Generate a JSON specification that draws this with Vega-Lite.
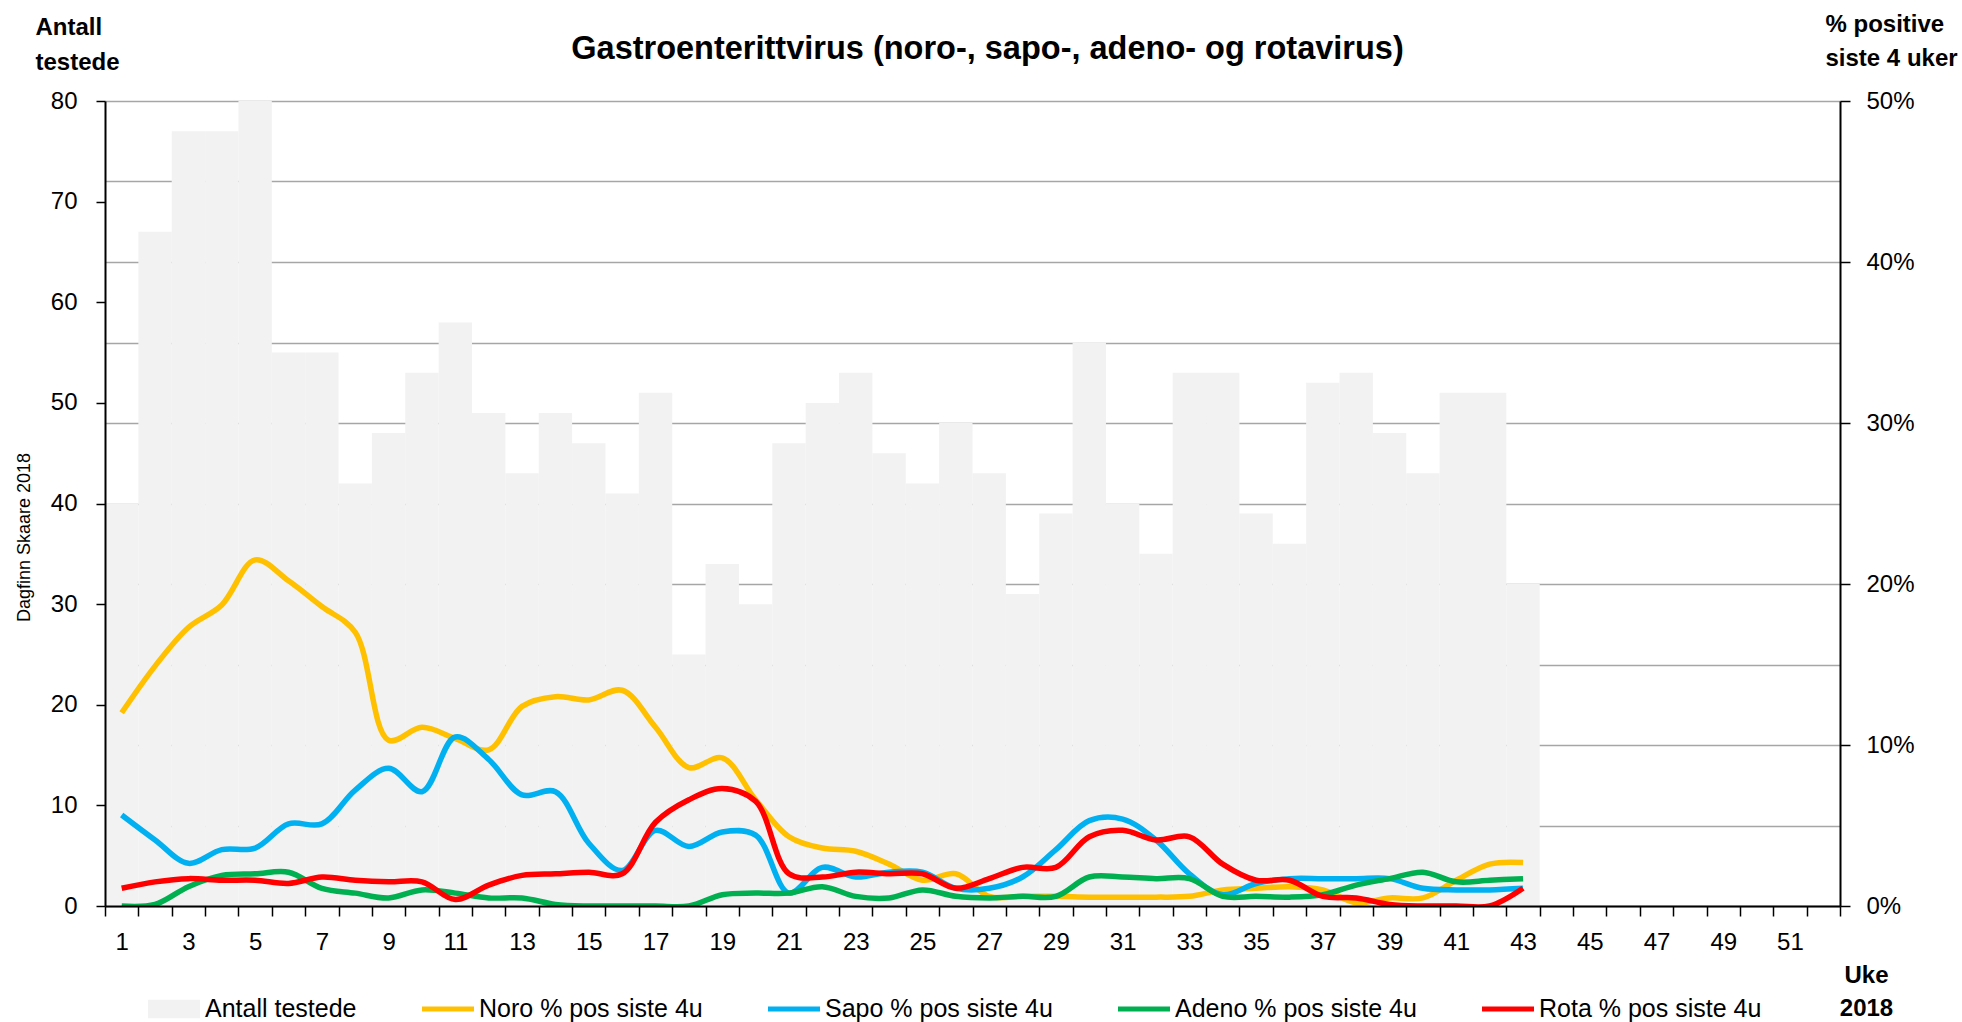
{
  "$schema": "https://vega.github.io/schema/vega-lite/v6.json",
  "width": 1735,
  "height": 805,
  "autosize": {"type": "none"},
  "padding": {"left": 105, "top": 101, "right": 122, "bottom": 116},
  "background": "white",
  "config": {
    "font": "Liberation Sans",
    "view": {"stroke": null},
    "axis": {"labelColor": "#000", "titleColor": "#000", "tickColor": "#000", "domainColor": "#000"}
  },
  "title": {
    "text": "Gastroenterittvirus (noro-, sapo-, adeno- og rotavirus)",
    "fontSize": 32.5,
    "fontWeight": "bold",
    "color": "#000",
    "anchor": "middle",
    "frame": "group",
    "dx": 15,
    "dy": 57
  },
  "datasets": {
    "antall": [
      {"uke": 1, "antall": 40}, {"uke": 2, "antall": 67}, {"uke": 3, "antall": 77}, {"uke": 4, "antall": 77},
      {"uke": 5, "antall": 80}, {"uke": 6, "antall": 55}, {"uke": 7, "antall": 55}, {"uke": 8, "antall": 42},
      {"uke": 9, "antall": 47}, {"uke": 10, "antall": 53}, {"uke": 11, "antall": 58}, {"uke": 12, "antall": 49},
      {"uke": 13, "antall": 43}, {"uke": 14, "antall": 49}, {"uke": 15, "antall": 46}, {"uke": 16, "antall": 41},
      {"uke": 17, "antall": 51}, {"uke": 18, "antall": 25}, {"uke": 19, "antall": 34}, {"uke": 20, "antall": 30},
      {"uke": 21, "antall": 46}, {"uke": 22, "antall": 50}, {"uke": 23, "antall": 53}, {"uke": 24, "antall": 45},
      {"uke": 25, "antall": 42}, {"uke": 26, "antall": 48}, {"uke": 27, "antall": 43}, {"uke": 28, "antall": 31},
      {"uke": 29, "antall": 39}, {"uke": 30, "antall": 56}, {"uke": 31, "antall": 40}, {"uke": 32, "antall": 35},
      {"uke": 33, "antall": 53}, {"uke": 34, "antall": 53}, {"uke": 35, "antall": 39}, {"uke": 36, "antall": 36},
      {"uke": 37, "antall": 52}, {"uke": 38, "antall": 53}, {"uke": 39, "antall": 47}, {"uke": 40, "antall": 43},
      {"uke": 41, "antall": 51}, {"uke": 42, "antall": 51}, {"uke": 43, "antall": 32}
    ],
    "pos": [
      {"uke": 1, "serie": "Noro % pos siste 4u", "pct": 0.120},
      {"uke": 2, "serie": "Noro % pos siste 4u", "pct": 0.149},
      {"uke": 3, "serie": "Noro % pos siste 4u", "pct": 0.173},
      {"uke": 4, "serie": "Noro % pos siste 4u", "pct": 0.187},
      {"uke": 5, "serie": "Noro % pos siste 4u", "pct": 0.215},
      {"uke": 6, "serie": "Noro % pos siste 4u", "pct": 0.202},
      {"uke": 7, "serie": "Noro % pos siste 4u", "pct": 0.186},
      {"uke": 8, "serie": "Noro % pos siste 4u", "pct": 0.170},
      {"uke": 9, "serie": "Noro % pos siste 4u", "pct": 0.103},
      {"uke": 10, "serie": "Noro % pos siste 4u", "pct": 0.111},
      {"uke": 11, "serie": "Noro % pos siste 4u", "pct": 0.104},
      {"uke": 12, "serie": "Noro % pos siste 4u", "pct": 0.097},
      {"uke": 13, "serie": "Noro % pos siste 4u", "pct": 0.124},
      {"uke": 14, "serie": "Noro % pos siste 4u", "pct": 0.130},
      {"uke": 15, "serie": "Noro % pos siste 4u", "pct": 0.128},
      {"uke": 16, "serie": "Noro % pos siste 4u", "pct": 0.134},
      {"uke": 17, "serie": "Noro % pos siste 4u", "pct": 0.111},
      {"uke": 18, "serie": "Noro % pos siste 4u", "pct": 0.086},
      {"uke": 19, "serie": "Noro % pos siste 4u", "pct": 0.092},
      {"uke": 20, "serie": "Noro % pos siste 4u", "pct": 0.066},
      {"uke": 21, "serie": "Noro % pos siste 4u", "pct": 0.043},
      {"uke": 22, "serie": "Noro % pos siste 4u", "pct": 0.036},
      {"uke": 23, "serie": "Noro % pos siste 4u", "pct": 0.034},
      {"uke": 24, "serie": "Noro % pos siste 4u", "pct": 0.026},
      {"uke": 25, "serie": "Noro % pos siste 4u", "pct": 0.016},
      {"uke": 26, "serie": "Noro % pos siste 4u", "pct": 0.020},
      {"uke": 27, "serie": "Noro % pos siste 4u", "pct": 0.006},
      {"uke": 28, "serie": "Noro % pos siste 4u", "pct": 0.006},
      {"uke": 29, "serie": "Noro % pos siste 4u", "pct": 0.006},
      {"uke": 30, "serie": "Noro % pos siste 4u", "pct": 0.0055},
      {"uke": 31, "serie": "Noro % pos siste 4u", "pct": 0.0055},
      {"uke": 32, "serie": "Noro % pos siste 4u", "pct": 0.0055},
      {"uke": 33, "serie": "Noro % pos siste 4u", "pct": 0.006},
      {"uke": 34, "serie": "Noro % pos siste 4u", "pct": 0.010},
      {"uke": 35, "serie": "Noro % pos siste 4u", "pct": 0.011},
      {"uke": 36, "serie": "Noro % pos siste 4u", "pct": 0.012},
      {"uke": 37, "serie": "Noro % pos siste 4u", "pct": 0.010},
      {"uke": 38, "serie": "Noro % pos siste 4u", "pct": 0.002},
      {"uke": 39, "serie": "Noro % pos siste 4u", "pct": 0.005},
      {"uke": 40, "serie": "Noro % pos siste 4u", "pct": 0.005},
      {"uke": 41, "serie": "Noro % pos siste 4u", "pct": 0.016},
      {"uke": 42, "serie": "Noro % pos siste 4u", "pct": 0.026},
      {"uke": 43, "serie": "Noro % pos siste 4u", "pct": 0.027},
      {"uke": 1, "serie": "Sapo % pos siste 4u", "pct": 0.0565},
      {"uke": 2, "serie": "Sapo % pos siste 4u", "pct": 0.041},
      {"uke": 3, "serie": "Sapo % pos siste 4u", "pct": 0.0265},
      {"uke": 4, "serie": "Sapo % pos siste 4u", "pct": 0.035},
      {"uke": 5, "serie": "Sapo % pos siste 4u", "pct": 0.036},
      {"uke": 6, "serie": "Sapo % pos siste 4u", "pct": 0.051},
      {"uke": 7, "serie": "Sapo % pos siste 4u", "pct": 0.051},
      {"uke": 8, "serie": "Sapo % pos siste 4u", "pct": 0.072},
      {"uke": 9, "serie": "Sapo % pos siste 4u", "pct": 0.0855},
      {"uke": 10, "serie": "Sapo % pos siste 4u", "pct": 0.071},
      {"uke": 11, "serie": "Sapo % pos siste 4u", "pct": 0.105},
      {"uke": 12, "serie": "Sapo % pos siste 4u", "pct": 0.091},
      {"uke": 13, "serie": "Sapo % pos siste 4u", "pct": 0.069},
      {"uke": 14, "serie": "Sapo % pos siste 4u", "pct": 0.071},
      {"uke": 15, "serie": "Sapo % pos siste 4u", "pct": 0.039},
      {"uke": 16, "serie": "Sapo % pos siste 4u", "pct": 0.022},
      {"uke": 17, "serie": "Sapo % pos siste 4u", "pct": 0.047},
      {"uke": 18, "serie": "Sapo % pos siste 4u", "pct": 0.037},
      {"uke": 19, "serie": "Sapo % pos siste 4u", "pct": 0.046},
      {"uke": 20, "serie": "Sapo % pos siste 4u", "pct": 0.044},
      {"uke": 21, "serie": "Sapo % pos siste 4u", "pct": 0.008},
      {"uke": 22, "serie": "Sapo % pos siste 4u", "pct": 0.024},
      {"uke": 23, "serie": "Sapo % pos siste 4u", "pct": 0.018},
      {"uke": 24, "serie": "Sapo % pos siste 4u", "pct": 0.021},
      {"uke": 25, "serie": "Sapo % pos siste 4u", "pct": 0.021},
      {"uke": 26, "serie": "Sapo % pos siste 4u", "pct": 0.011},
      {"uke": 27, "serie": "Sapo % pos siste 4u", "pct": 0.011},
      {"uke": 28, "serie": "Sapo % pos siste 4u", "pct": 0.018},
      {"uke": 29, "serie": "Sapo % pos siste 4u", "pct": 0.035},
      {"uke": 30, "serie": "Sapo % pos siste 4u", "pct": 0.053},
      {"uke": 31, "serie": "Sapo % pos siste 4u", "pct": 0.054},
      {"uke": 32, "serie": "Sapo % pos siste 4u", "pct": 0.041},
      {"uke": 33, "serie": "Sapo % pos siste 4u", "pct": 0.020},
      {"uke": 34, "serie": "Sapo % pos siste 4u", "pct": 0.007},
      {"uke": 35, "serie": "Sapo % pos siste 4u", "pct": 0.014},
      {"uke": 36, "serie": "Sapo % pos siste 4u", "pct": 0.017},
      {"uke": 37, "serie": "Sapo % pos siste 4u", "pct": 0.017},
      {"uke": 38, "serie": "Sapo % pos siste 4u", "pct": 0.017},
      {"uke": 39, "serie": "Sapo % pos siste 4u", "pct": 0.017},
      {"uke": 40, "serie": "Sapo % pos siste 4u", "pct": 0.011},
      {"uke": 41, "serie": "Sapo % pos siste 4u", "pct": 0.010},
      {"uke": 42, "serie": "Sapo % pos siste 4u", "pct": 0.010},
      {"uke": 43, "serie": "Sapo % pos siste 4u", "pct": 0.011},
      {"uke": 1, "serie": "Adeno % pos siste 4u", "pct": 0.0},
      {"uke": 2, "serie": "Adeno % pos siste 4u", "pct": 0.001},
      {"uke": 3, "serie": "Adeno % pos siste 4u", "pct": 0.012},
      {"uke": 4, "serie": "Adeno % pos siste 4u", "pct": 0.019},
      {"uke": 5, "serie": "Adeno % pos siste 4u", "pct": 0.020},
      {"uke": 6, "serie": "Adeno % pos siste 4u", "pct": 0.021},
      {"uke": 7, "serie": "Adeno % pos siste 4u", "pct": 0.011},
      {"uke": 8, "serie": "Adeno % pos siste 4u", "pct": 0.008},
      {"uke": 9, "serie": "Adeno % pos siste 4u", "pct": 0.005},
      {"uke": 10, "serie": "Adeno % pos siste 4u", "pct": 0.010},
      {"uke": 11, "serie": "Adeno % pos siste 4u", "pct": 0.008},
      {"uke": 12, "serie": "Adeno % pos siste 4u", "pct": 0.005},
      {"uke": 13, "serie": "Adeno % pos siste 4u", "pct": 0.005},
      {"uke": 14, "serie": "Adeno % pos siste 4u", "pct": 0.001},
      {"uke": 15, "serie": "Adeno % pos siste 4u", "pct": 0.0},
      {"uke": 16, "serie": "Adeno % pos siste 4u", "pct": 0.0},
      {"uke": 17, "serie": "Adeno % pos siste 4u", "pct": 0.0},
      {"uke": 18, "serie": "Adeno % pos siste 4u", "pct": 0.0},
      {"uke": 19, "serie": "Adeno % pos siste 4u", "pct": 0.007},
      {"uke": 20, "serie": "Adeno % pos siste 4u", "pct": 0.008},
      {"uke": 21, "serie": "Adeno % pos siste 4u", "pct": 0.008},
      {"uke": 22, "serie": "Adeno % pos siste 4u", "pct": 0.012},
      {"uke": 23, "serie": "Adeno % pos siste 4u", "pct": 0.006},
      {"uke": 24, "serie": "Adeno % pos siste 4u", "pct": 0.005},
      {"uke": 25, "serie": "Adeno % pos siste 4u", "pct": 0.010},
      {"uke": 26, "serie": "Adeno % pos siste 4u", "pct": 0.006},
      {"uke": 27, "serie": "Adeno % pos siste 4u", "pct": 0.005},
      {"uke": 28, "serie": "Adeno % pos siste 4u", "pct": 0.006},
      {"uke": 29, "serie": "Adeno % pos siste 4u", "pct": 0.006},
      {"uke": 30, "serie": "Adeno % pos siste 4u", "pct": 0.018},
      {"uke": 31, "serie": "Adeno % pos siste 4u", "pct": 0.018},
      {"uke": 32, "serie": "Adeno % pos siste 4u", "pct": 0.017},
      {"uke": 33, "serie": "Adeno % pos siste 4u", "pct": 0.017},
      {"uke": 34, "serie": "Adeno % pos siste 4u", "pct": 0.006},
      {"uke": 35, "serie": "Adeno % pos siste 4u", "pct": 0.006},
      {"uke": 36, "serie": "Adeno % pos siste 4u", "pct": 0.0055},
      {"uke": 37, "serie": "Adeno % pos siste 4u", "pct": 0.007},
      {"uke": 38, "serie": "Adeno % pos siste 4u", "pct": 0.013},
      {"uke": 39, "serie": "Adeno % pos siste 4u", "pct": 0.017},
      {"uke": 40, "serie": "Adeno % pos siste 4u", "pct": 0.021},
      {"uke": 41, "serie": "Adeno % pos siste 4u", "pct": 0.015},
      {"uke": 42, "serie": "Adeno % pos siste 4u", "pct": 0.016},
      {"uke": 43, "serie": "Adeno % pos siste 4u", "pct": 0.017},
      {"uke": 1, "serie": "Rota % pos siste 4u", "pct": 0.011},
      {"uke": 2, "serie": "Rota % pos siste 4u", "pct": 0.015},
      {"uke": 3, "serie": "Rota % pos siste 4u", "pct": 0.017},
      {"uke": 4, "serie": "Rota % pos siste 4u", "pct": 0.016},
      {"uke": 5, "serie": "Rota % pos siste 4u", "pct": 0.016},
      {"uke": 6, "serie": "Rota % pos siste 4u", "pct": 0.014},
      {"uke": 7, "serie": "Rota % pos siste 4u", "pct": 0.018},
      {"uke": 8, "serie": "Rota % pos siste 4u", "pct": 0.016},
      {"uke": 9, "serie": "Rota % pos siste 4u", "pct": 0.015},
      {"uke": 10, "serie": "Rota % pos siste 4u", "pct": 0.015},
      {"uke": 11, "serie": "Rota % pos siste 4u", "pct": 0.004},
      {"uke": 12, "serie": "Rota % pos siste 4u", "pct": 0.013},
      {"uke": 13, "serie": "Rota % pos siste 4u", "pct": 0.019},
      {"uke": 14, "serie": "Rota % pos siste 4u", "pct": 0.020},
      {"uke": 15, "serie": "Rota % pos siste 4u", "pct": 0.021},
      {"uke": 16, "serie": "Rota % pos siste 4u", "pct": 0.020},
      {"uke": 17, "serie": "Rota % pos siste 4u", "pct": 0.052},
      {"uke": 18, "serie": "Rota % pos siste 4u", "pct": 0.066},
      {"uke": 19, "serie": "Rota % pos siste 4u", "pct": 0.073},
      {"uke": 20, "serie": "Rota % pos siste 4u", "pct": 0.065},
      {"uke": 21, "serie": "Rota % pos siste 4u", "pct": 0.020},
      {"uke": 22, "serie": "Rota % pos siste 4u", "pct": 0.018},
      {"uke": 23, "serie": "Rota % pos siste 4u", "pct": 0.021},
      {"uke": 24, "serie": "Rota % pos siste 4u", "pct": 0.020},
      {"uke": 25, "serie": "Rota % pos siste 4u", "pct": 0.020},
      {"uke": 26, "serie": "Rota % pos siste 4u", "pct": 0.011},
      {"uke": 27, "serie": "Rota % pos siste 4u", "pct": 0.017},
      {"uke": 28, "serie": "Rota % pos siste 4u", "pct": 0.024},
      {"uke": 29, "serie": "Rota % pos siste 4u", "pct": 0.024},
      {"uke": 30, "serie": "Rota % pos siste 4u", "pct": 0.043},
      {"uke": 31, "serie": "Rota % pos siste 4u", "pct": 0.047},
      {"uke": 32, "serie": "Rota % pos siste 4u", "pct": 0.041},
      {"uke": 33, "serie": "Rota % pos siste 4u", "pct": 0.043},
      {"uke": 34, "serie": "Rota % pos siste 4u", "pct": 0.026},
      {"uke": 35, "serie": "Rota % pos siste 4u", "pct": 0.016},
      {"uke": 36, "serie": "Rota % pos siste 4u", "pct": 0.016},
      {"uke": 37, "serie": "Rota % pos siste 4u", "pct": 0.006},
      {"uke": 38, "serie": "Rota % pos siste 4u", "pct": 0.005},
      {"uke": 39, "serie": "Rota % pos siste 4u", "pct": 0.001},
      {"uke": 40, "serie": "Rota % pos siste 4u", "pct": 0.0},
      {"uke": 41, "serie": "Rota % pos siste 4u", "pct": 0.0},
      {"uke": 42, "serie": "Rota % pos siste 4u", "pct": 0.0},
      {"uke": 43, "serie": "Rota % pos siste 4u", "pct": 0.011}
    ]
  },
  "layer": [
    {
      "data": {"name": "antall"},
      "mark": {"type": "bar"},
      "encoding": {
        "x": {
          "field": "uke",
          "type": "ordinal",
          "scale": {
            "domain": [1,2,3,4,5,6,7,8,9,10,11,12,13,14,15,16,17,18,19,20,21,22,23,24,25,26,27,28,29,30,31,32,33,34,35,36,37,38,39,40,41,42,43,44,45,46,47,48,49,50,51,52],
            "paddingInner": 0,
            "paddingOuter": 0
          },
          "axis": {
            "title": ["Uke", "2018"],
            "titleFontSize": 24,
            "titleFontWeight": "bold",
            "titleAngle": 0,
            "titleX": 1761,
            "titleY": 76,
            "titleAlign": "center",
            "titleBaseline": "alphabetic",
            "titleLineHeight": 33,
            "labelExpr": "datum.value % 2 === 1 ? datum.label : ''",
            "labelAngle": 0,
            "labelFontSize": 24,
            "labelPadding": 14,
            "labelBaseline": "top",
            "labelOverlap": false,
            "tickBand": "extent",
            "tickSize": 10,
            "tickWidth": 1.5,
            "domainWidth": 2,
            "grid": false,
            "zindex": 1
          }
        },
        "y": {
          "field": "antall",
          "type": "quantitative",
          "scale": {"domain": [0, 80], "nice": false},
          "axis": {
            "title": ["Antall", "testede"],
            "titleFontSize": 24,
            "titleFontWeight": "bold",
            "titleAngle": 0,
            "titleX": -70,
            "titleY": -67,
            "titleAlign": "left",
            "titleBaseline": "alphabetic",
            "titleLineHeight": 35,
            "values": [0, 10, 20, 30, 40, 50, 60, 70, 80],
            "format": "d",
            "labelFontSize": 24,
            "labelPadding": 19,
            "tickSize": 9,
            "tickWidth": 1.5,
            "domainWidth": 2,
            "grid": false,
            "zindex": 1
          }
        },
        "color": {
          "datum": "Antall testede",
          "type": "nominal",
          "title": null,
          "scale": {
            "domain": ["Antall testede", "Noro % pos siste 4u", "Sapo % pos siste 4u", "Adeno % pos siste 4u", "Rota % pos siste 4u"],
            "range": ["#F2F2F2", "#FFC000", "#00B0F0", "#00B050", "#FF0000"]
          },
          "legend": {
            "orient": "none",
            "legendX": 43,
            "legendY": 882,
            "direction": "horizontal",
            "title": null,
            "labelFontSize": 25,
            "labelColor": "#000",
            "labelLimit": 500,
            "symbolSize": 2704,
            "columnPadding": 65,
            "labelOffset": 5,
            "encode": {
              "symbols": {
                "update": {
                  "shape": {"signal": "datum.value === 'Antall testede' ? 'M-1,-0.36H1V0.36H-1Z' : 'M-1,-0.36M-1,-0.1H1V0.1H-1Z'"},
                  "fill": {"signal": "scale('color', datum.value)"},
                  "stroke": {"value": "transparent"},
                  "strokeWidth": {"value": 0},
                  "opacity": {"value": 1},
                  "fillOpacity": {"value": 1}
                }
              }
            }
          }
        }
      }
    },
    {
      "data": {"name": "pos"},
      "mark": {"type": "line", "interpolate": "catmull-rom", "strokeWidth": 5.5, "clip": true},
      "encoding": {
        "x": {
          "field": "uke",
          "type": "ordinal",
          "scale": {
            "type": "point",
            "domain": [1,2,3,4,5,6,7,8,9,10,11,12,13,14,15,16,17,18,19,20,21,22,23,24,25,26,27,28,29,30,31,32,33,34,35,36,37,38,39,40,41,42,43,44,45,46,47,48,49,50,51,52],
            "padding": 0.5
          },
          "axis": {
            "orient": "top",
            "title": "Dagfinn Skaare 2018",
            "titleFontSize": 18,
            "titleFontWeight": "normal",
            "titleAngle": 270,
            "titleX": -81,
            "titleY": 436,
            "titleAlign": "center",
            "titleBaseline": "middle",
            "labels": false,
            "ticks": false,
            "domain": false,
            "grid": false
          }
        },
        "y": {
          "field": "pct",
          "type": "quantitative",
          "scale": {"domain": [0, 0.5], "nice": false},
          "axis": {
            "orient": "right",
            "title": ["% positive", "siste 4 uker"],
            "titleFontSize": 24,
            "titleFontWeight": "bold",
            "titleAngle": 0,
            "titleX": -15,
            "titleY": -70,
            "titleAlign": "left",
            "titleBaseline": "alphabetic",
            "titleLineHeight": 34,
            "values": [0, 0.05, 0.1, 0.15, 0.2, 0.25, 0.3, 0.35, 0.4, 0.45, 0.5],
            "format": ".0%",
            "labelExpr": "round(datum.value * 100) % 10 === 0 ? datum.label : ''",
            "labelFontSize": 24,
            "labelPadding": 16,
            "tickSize": 10,
            "tickWidth": 1.5,
            "tickOpacity": {"condition": {"test": "round(datum.value * 100) % 10 === 0", "value": 1}, "value": 0},
            "domainWidth": 2,
            "grid": true,
            "gridColor": "#A6A6A6",
            "gridWidth": 1.6,
            "zindex": 0
          }
        },
        "color": {
          "field": "serie",
          "type": "nominal",
          "title": null,
          "legend": {
            "orient": "none",
            "legendX": 43,
            "legendY": 882,
            "direction": "horizontal",
            "title": null,
            "labelFontSize": 25,
            "labelColor": "#000",
            "labelLimit": 500,
            "symbolSize": 2704,
            "columnPadding": 65,
            "labelOffset": 5
          }
        }
      }
    }
  ],
  "resolve": {"scale": {"x": "independent", "y": "independent"}}
}
